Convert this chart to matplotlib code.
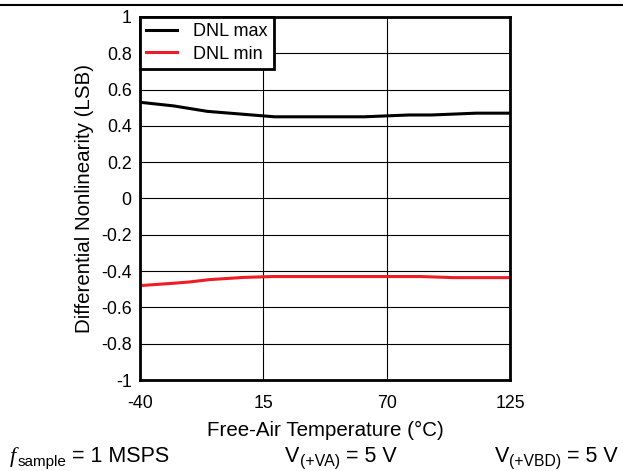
import matplotlib
matplotlib.use('Agg')
import matplotlib.pyplot as plt

plt.rcParams['font.family'] = ['Liberation Sans', 'DejaVu Sans']

# data
temp_max = [-40, -25, -10, 0, 10, 20, 30, 40, 50, 60, 70, 80, 90, 100, 110, 125]
dnl_max = [0.53, 0.51, 0.48, 0.47, 0.46, 0.45, 0.45, 0.45, 0.45, 0.45, 0.455, 0.46, 0.46, 0.465, 0.47, 0.47]
temp_min = [-40, -25, -18, -9, 6, 19, 40, 60, 85, 100, 125]
dnl_min = [-0.48, -0.467, -0.46, -0.447, -0.435, -0.43, -0.43, -0.43, -0.43, -0.436, -0.436]
x_ticks = [-40, 15, 70, 125]
y_ticks = [1, 0.8, 0.6, 0.4, 0.2, 0, -0.2, -0.4, -0.6, -0.8, -1]
y_labels = ['1', '0.8', '0.6', '0.4', '0.2', '0', '-0.2', '-0.4', '-0.6', '-0.8', '-1']


def put_pieces(fig, x, y, pieces, ha='left'):
    # pieces: (text, size, drop in px, style); laid out left to right
    r = fig.canvas.get_renderer()
    texts = []
    total = 0
    for txt, size, drop, style in pieces:
        t = fig.text(0, 0, txt, fontsize=size, style=style, va='baseline',
                     family=['Liberation Serif'] if style == 'italic' else None)
        w = t.get_window_extent(r).width
        texts.append((t, w, drop))
        total += w
    x0 = x * fig.bbox.width
    if ha == 'right':
        x0 -= total
    elif ha == 'center':
        x0 -= total / 2
    y0 = y * fig.bbox.height
    for t, w, drop in texts:
        t.set_transform(matplotlib.transforms.IdentityTransform())
        t.set_position((x0, y0 - drop))
        x0 += w


fig = plt.figure(figsize=(6.23, 4.71), dpi=100)
ax = fig.add_axes([0.2247, 0.1932, 0.5939, 0.7708])

ax.plot(temp_max, dnl_max, color='black', lw=2.2, label='DNL max')
ax.plot(temp_min, dnl_min, color='#ee1c25', lw=2.2, label='DNL min')

ax.set_xlim(-40, 125)
ax.set_ylim(-1, 1)
ax.set_xticks(x_ticks)
ax.set_xticklabels([str(t) for t in x_ticks])
ax.set_yticks(y_ticks)
ax.set_yticklabels(y_labels)
ax.tick_params(length=0, labelsize=12.8)
ax.tick_params(axis='x', pad=10.5)
ax.tick_params(axis='y', pad=6)
ax.grid(True, color='black', lw=0.8)
for s in ax.spines.values():
    s.set_linewidth(2)

ax.set_xlabel('Free-Air Temperature (°C)', fontsize=14.8, labelpad=7)
ax.set_ylabel('Differential Nonlinearity (LSB)', fontsize=14.8, labelpad=5)

leg = ax.legend(loc='upper left', bbox_to_anchor=(0, 1), borderaxespad=0,
                fontsize=13, fancybox=False, framealpha=1, edgecolor='black',
                handlelength=1.7, handletextpad=0.9, borderpad=0.35, labelspacing=0.3)
leg.get_frame().set_linewidth(2)

# rule at the top of the figure
fig.add_artist(plt.Line2D([0, 1], [0.989, 0.989], color='black', lw=1.5, transform=fig.transFigure))

put_pieces(fig, 0.015, 0.019, [('f', 16, 0, 'italic'), (' ', 5, 0, 'normal'),
                               ('sample', 11, 4, 'normal'), (' = 1 MSPS', 15.5, 0, 'normal')])
put_pieces(fig, 0.547, 0.019, [('V', 15.5, 0, 'normal'), ('(+VA)', 11.5, 4, 'normal'),
                               (' = 5 V', 15.5, 0, 'normal')], ha='center')
put_pieces(fig, 0.992, 0.019, [('V', 15.5, 0, 'normal'), ('(+VBD)', 11.3, 4, 'normal'),
                               (' = 5 V', 15.5, 0, 'normal')], ha='right')

fig.savefig('out.png', dpi=100)
